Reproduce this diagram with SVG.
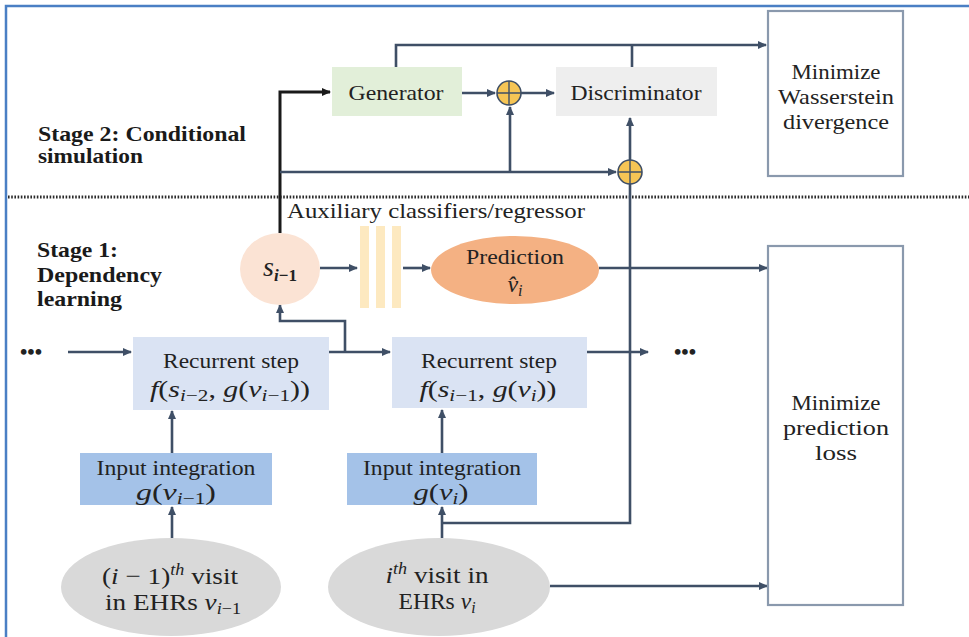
<svg xmlns="http://www.w3.org/2000/svg" width="969" height="637" viewBox="0 0 969 637">
<style>
  .ln{fill:none;stroke:#3f4f66;stroke-width:2.6}
  .ar{marker-end:url(#ah)}
  .t{font-family:"Liberation Serif","Times New Roman",serif;font-size:21px;fill:#222;text-anchor:middle}
  .b{font-family:"Liberation Serif","Times New Roman",serif;font-size:21px;font-weight:bold;fill:#1a1a1a}
  .m{font-family:"Liberation Serif","Times New Roman",serif;font-size:24px;fill:#222;text-anchor:middle}
  .i{font-style:italic}
  .box{stroke:none}
  .mb{fill:#fff;stroke:#8a99ad;stroke-width:2.2}
  .plus{fill:#f6c555;stroke:#3f4f66;stroke-width:1.6}
</style>
<defs>
  <marker id="ah" markerWidth="9" markerHeight="8" refX="8" refY="4" orient="auto" markerUnits="userSpaceOnUse">
    <path d="M0,0 L9,4 L0,8 z" fill="#3f4f66"/>
  </marker>
  <marker id="ahk" markerWidth="9" markerHeight="8" refX="8" refY="4" orient="auto" markerUnits="userSpaceOnUse">
    <path d="M0,0 L9,4 L0,8 z" fill="#1a1a1a"/>
  </marker>
</defs>
<rect width="969" height="637" fill="#fff"/>
<rect x="6" y="6" width="990" height="680" fill="none" stroke="#4a7fc4" stroke-width="2.5"/>

<line x1="8" y1="197" x2="969" y2="197" stroke="#2a2a2a" stroke-width="3" stroke-dasharray="1.6 1.6"/>

<g id="stage2">
  <text class="b" x="38" y="141" textLength="208" lengthAdjust="spacingAndGlyphs">Stage 2: Conditional</text>
  <text class="b" x="38" y="163" textLength="105" lengthAdjust="spacingAndGlyphs">simulation</text>
</g>
<g id="stage1">
  <text class="b" x="37" y="257" textLength="81" lengthAdjust="spacingAndGlyphs">Stage 1:</text>
  <text class="b" x="37" y="282" textLength="125" lengthAdjust="spacingAndGlyphs">Dependency</text>
  <text class="b" x="37" y="306" textLength="85" lengthAdjust="spacingAndGlyphs">learning</text>
</g>

<g id="connectors">
  <path class="ln ar" d="M396,67 V45 H766"/>
  <path class="ln" d="M632,67 V45"/>
  <path class="ln" d="M280,233 V92 H330" style="stroke:#1a1a1a;stroke-width:3;marker-end:url(#ahk)"/>
  <path class="ln ar" d="M462,93 H495"/>
  <path class="ln ar" d="M521,93 H554"/>
  <path class="ln ar" d="M280,172 H616"/>
  <path class="ln ar" d="M510,172 V107"/>
  <path class="ln ar" d="M630,160 V118"/>
  <path class="ln" d="M630,184 V523 H442"/>
  <path class="ln ar" d="M320,268 H357"/>
  <path class="ln ar" d="M403,268 H430"/>
  <path class="ln ar" d="M599,268 H767"/>
  <path class="ln ar" d="M68,352 H131"/>
  <path class="ln ar" d="M329,352 H390"/>
  <path class="ln ar" d="M345,352 V321 H280 V305"/>
  <path class="ln ar" d="M587,352 H648"/>
  <path class="ln ar" d="M172,453 V411"/>
  <path class="ln ar" d="M442,453 V410"/>
  <path class="ln ar" d="M172,538 V507"/>
  <path class="ln ar" d="M442,538 V507"/>
  <path class="ln ar" d="M550,586 H767"/>
</g>

<g id="generator">
  <rect class="box" x="332" y="67" width="130" height="49" fill="#e2efd9"/>
  <text class="t" x="396" y="100" textLength="95" lengthAdjust="spacingAndGlyphs">Generator</text>
</g>
<g id="plus1">
  <circle class="plus" cx="509" cy="93" r="12"/>
  <path d="M497,93 H521 M509,81 V105" stroke="#3f4f66" stroke-width="1.4"/>
</g>
<g id="discriminator">
  <rect class="box" x="556" y="67" width="161" height="49" fill="#eeeeee"/>
  <text class="t" x="636" y="100" textLength="131" lengthAdjust="spacingAndGlyphs">Discriminator</text>
</g>
<g id="plus2">
  <circle class="plus" cx="630" cy="172" r="12"/>
  <path d="M618,172 H642 M630,160 V184" stroke="#3f4f66" stroke-width="1.4"/>
</g>
<g id="minimize-wasserstein">
  <rect class="mb" x="768" y="11" width="135" height="165"/>
  <text class="t" x="836" y="79" textLength="89" lengthAdjust="spacingAndGlyphs">Minimize</text>
  <text class="t" x="836" y="104" textLength="116" lengthAdjust="spacingAndGlyphs">Wasserstein</text>
  <text class="t" x="836" y="129" textLength="106" lengthAdjust="spacingAndGlyphs">divergence</text>
</g>

<g id="aux-label">
  <text class="t" x="436" y="218" textLength="298" lengthAdjust="spacingAndGlyphs">Auxiliary classifiers/regressor</text>
</g>
<g id="state">
  <ellipse cx="280" cy="269" rx="40" ry="36" fill="#fbe3d4"/>
  <text class="m" x="280" y="276"><tspan class="i" font-size="28">s</tspan><tspan font-size="17" font-weight="bold" dy="5"><tspan class="i">i</tspan>−1</tspan></text>
</g>
<g id="aux-classifier">
  <rect x="360" y="226" width="9" height="82" fill="#fde9c0"/>
  <rect x="376" y="226" width="9" height="82" fill="#fde9c0"/>
  <rect x="392" y="226" width="9" height="82" fill="#fde9c0"/>
</g>
<g id="prediction">
  <ellipse cx="515" cy="270" rx="84" ry="34" fill="#f4b183"/>
  <text class="t" x="515" y="264" textLength="98" lengthAdjust="spacingAndGlyphs">Prediction</text>
  <text class="m" x="515" y="292"><tspan class="i">v̂</tspan><tspan class="i" font-size="16" dy="4">i</tspan></text>
</g>
<g id="minimize-prediction">
  <rect class="mb" x="768" y="246" width="135" height="359"/>
  <text class="t" x="836" y="410" textLength="89" lengthAdjust="spacingAndGlyphs">Minimize</text>
  <text class="t" x="836" y="435" textLength="106" lengthAdjust="spacingAndGlyphs">prediction</text>
  <text class="t" x="836" y="460" textLength="42" lengthAdjust="spacingAndGlyphs">loss</text>
</g>

<g id="dots-left">
  <text class="t" x="31" y="359" font-size="20" font-weight="bold" fill="#111">•••</text>
</g>
<g id="recurrent1">
  <rect class="box" x="133" y="337" width="196" height="73" fill="#dae3f3"/>
  <text class="t" x="231" y="368" textLength="136" lengthAdjust="spacingAndGlyphs">Recurrent step</text>
  <text class="m" x="230" y="397" font-size="25" textLength="160" lengthAdjust="spacingAndGlyphs"><tspan class="i">f</tspan>(<tspan class="i">s</tspan><tspan font-size="17" dy="4"><tspan class="i">i</tspan>−2</tspan><tspan dy="-4">, </tspan><tspan class="i">g</tspan>(<tspan class="i">v</tspan><tspan font-size="17" dy="4"><tspan class="i">i</tspan>−1</tspan><tspan dy="-4">))</tspan></text>
</g>
<g id="recurrent2">
  <rect class="box" x="392" y="337" width="195" height="71" fill="#dae3f3"/>
  <text class="t" x="489" y="368" textLength="136" lengthAdjust="spacingAndGlyphs">Recurrent step</text>
  <text class="m" x="488" y="397" font-size="25" textLength="137" lengthAdjust="spacingAndGlyphs"><tspan class="i">f</tspan>(<tspan class="i">s</tspan><tspan font-size="17" dy="4"><tspan class="i">i</tspan>−1</tspan><tspan dy="-4">, </tspan><tspan class="i">g</tspan>(<tspan class="i">v</tspan><tspan font-size="17" dy="4" class="i">i</tspan><tspan dy="-4">))</tspan></text>
</g>
<g id="dots-right">
  <text class="t" x="685" y="359" font-size="20" font-weight="bold" fill="#111">•••</text>
</g>

<g id="input1">
  <rect class="box" x="80" y="453" width="192" height="52" fill="#a4c2e8"/>
  <text class="t" x="176" y="475" textLength="159" lengthAdjust="spacingAndGlyphs">Input integration</text>
  <text class="m" x="176" y="500" textLength="80" lengthAdjust="spacingAndGlyphs"><tspan class="i">g</tspan>(<tspan class="i">v</tspan><tspan font-size="16" dy="4"><tspan class="i">i</tspan>−1</tspan><tspan dy="-4">)</tspan></text>
</g>
<g id="input2">
  <rect class="box" x="347" y="453" width="190" height="52" fill="#a4c2e8"/>
  <text class="t" x="442" y="475" textLength="158" lengthAdjust="spacingAndGlyphs">Input integration</text>
  <text class="m" x="441" y="500" textLength="55" lengthAdjust="spacingAndGlyphs"><tspan class="i">g</tspan>(<tspan class="i">v</tspan><tspan font-size="16" dy="4" class="i">i</tspan><tspan dy="-4">)</tspan></text>
</g>

<g id="visit1">
  <ellipse cx="171" cy="587" rx="110" ry="49" fill="#d9d9d9"/>
  <text class="m" x="170" y="584" font-size="22" textLength="136" lengthAdjust="spacingAndGlyphs">(<tspan class="i">i</tspan> − 1)<tspan class="i" font-size="16" dy="-9">th</tspan><tspan dy="9"> visit</tspan></text>
  <text class="m" x="173" y="610" font-size="22" textLength="136" lengthAdjust="spacingAndGlyphs">in EHRs <tspan class="i">v</tspan><tspan font-size="16" dy="4"><tspan class="i">i</tspan>−1</tspan></text>
</g>
<g id="visit2">
  <ellipse cx="439" cy="587" rx="111" ry="49" fill="#d9d9d9"/>
  <text class="m" x="437" y="583" font-size="22" textLength="103" lengthAdjust="spacingAndGlyphs"><tspan class="i">i</tspan><tspan class="i" font-size="16" dy="-9">th</tspan><tspan dy="9"> visit in</tspan></text>
  <text class="m" x="437" y="609" font-size="22" textLength="77" lengthAdjust="spacingAndGlyphs">EHRs <tspan class="i">v</tspan><tspan font-size="16" dy="4" class="i">i</tspan></text>
</g>
</svg>
